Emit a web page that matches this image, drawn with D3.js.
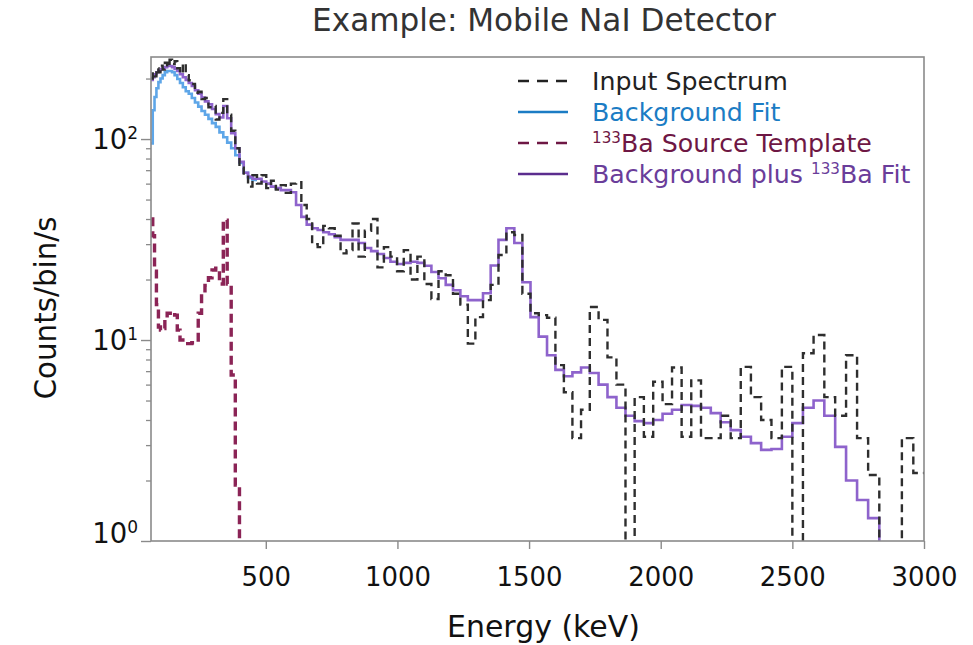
<!DOCTYPE html>
<html><head><meta charset="utf-8">
<script src="https://cdn.jsdelivr.net/npm/d3@7"></script>
<style>body{margin:0;background:#fff;} svg{display:block;font-family:"DejaVu Sans",sans-serif;}</style>
</head><body><svg id="c" width="973" height="645"></svg>
<script>
// Histogram bin edges (keV)
const binEdges = [64,70.6,77.4,84.6,92.2,100,108.2,116.6,125.4,134.6,144,153.8,163.8,174.2,185,196,207.4,219,231,243.4,
256,269,282.2,295.8,309.8,324,338.6,353.4,368.6,384.2,400,416.2,432.6,449.4,466.6,484,501.8,519.8,538.2,557,
576,595.4,615,635,655.4,676,697,718.2,739.8,761.8,784,806.6,829.4,852.6,876.2,900,924.2,948.6,973.4,998.6,
1024,1049.8,1075.8,1102.2,1129,1156,1183.4,1211,1239,1267.4,1296,1325,1354.2,1383.8,1413.8,1444,1474.6,1505.4,1536.6,1568.2,
1600,1632.2,1664.6,1697.4,1730.6,1764,1797.8,1831.8,1866.2,1901,1936,1971.4,2007,2043,2079.4,2116,2153,2190.2,2227.8,2265.8,
2304,2342.6,2381.4,2420.6,2460.2,2500,2540.2,2580.6,2621.4,2662.6,2704,2745.8,2787.8,2830.2,2873,2916,2959.4,3000];

// Input spectrum (counts/bin/s), one value per bin
const inputSpectrum = [200,215,205,225,215,232,222,240,228,248,
236,244,225,212,238,208,196,188,170,172,
158,160,144,146,125,135,158,132,110,90,
72,66,58,66,60,66,57,62,56,59,
54,60,61,47,40,30,29,37,36,33,
27,28,38,26,35,40,23,29,26,22,
28,20,26,19,16,22,21,17,15,9.6,
13,15.8,18.8,26.5,34.4,33.3,17,13.6,13.3,12.9,
7.5,5.5,3.25,4.5,14.6,12.6,8.2,6.0,0.3,5.2,
3.3,6.2,4.8,7.3,3.3,6.3,3.25,3.25,4.2,3.25,
7.35,5.2,4.0,3.25,7.35,0.3,8.6,10.6,5.2,4.2,
8.4,3.25,2.13,0.3,0.3,3.25,2.18];

// Background fit (visible at low energy)
const backgroundFit = [95,139,162,179,192,200,208,215,218,218,
215,208,199,190,181,173,168,160,152,145,
138,132,126,120,115,108,102,96,90,83,
76,68,64,62.5];

// 133Ba source template
const baTemplate = [40,33,22,15,11.6,11.2,11.4,12.8,13.6,13.6,
13.8,13.3,11.2,10,9.7,9.6,9.6,9.7,9.7,13.6,
17,18.7,20.4,22.3,22.8,19,39.5,19,6.7,1.9,0.5];

// Background plus 133Ba fit
const bgPlusBaFit = [197,203,210,215,220,223,226,228,231,231,
228,223,218,210,203,197,190,184,175,168,
161,154,149,141,133,128,146,127,107,90,
77,68,65,63.5,63.5,61.5,60,58,57,55.7,
55.7,54.4,47,41,37.5,36,35.3,34.4,33.6,32.5,
31.5,31.5,31.5,30.4,28.7,27.7,26.8,25.6,24.5,23.9,
24.2,24.5,24.2,23.4,21.8,20.3,18.8,17.7,16.5,15.8,
15.8,17.1,23.5,31.5,36,30.4,19.4,13.0,10.4,8.4,
7.1,6.6,6.9,7.3,6.85,6.0,5.2,4.6,4.2,3.95,
3.86,4.0,4.3,4.5,4.75,4.7,4.6,4.33,3.9,3.56,
3.3,3.07,2.84,2.87,3.3,3.86,4.6,5.0,4.2,2.94,
2.0,1.6,1.3,0.5,0.5,0.5,0.5];

const xTicks = [500,1000,1500,2000,2500,3000];
const yTicks = [1,10,100];
const yTickExponents = ["0","1","2"];
const legendLabels = ["Input Spectrum","Background Fit","^133Ba Source Template","Background plus ^133Ba Fit"];
const titleText = "Example: Mobile NaI Detector";
const xLabel = "Energy (keV)";
const yLabel = "Counts/bin/s";

const svg = d3.select("#c");
const M = {left:151, right:924, top:57, bottom:541};
const x = d3.scaleLinear().domain([64,3000]).range([M.left,M.right]);
const y = d3.scaleLog().domain([1,256]).range([M.bottom,M.top]);
const frameColor = "#8a8a8a";

function fit(sel, target){
  const w = sel.node().getComputedTextLength();
  const fs = parseFloat(sel.attr("font-size"));
  const nf = fs*target/w;
  sel.attr("font-size", nf);
  return nf;
}
function measure(str, fs){
  const p = svg.append("text").attr("font-size",fs).text(str);
  const w = p.node().getComputedTextLength();
  p.remove();
  return w;
}

// clip
svg.append("defs").append("clipPath").attr("id","clip")
  .append("rect").attr("x",M.left).attr("y",M.top).attr("width",M.right-M.left).attr("height",M.bottom-M.top);

// Step paths
function stepPoints(vals){
  const n = Math.min(vals.length, binEdges.length-1);
  const pts = [];
  for(let i=0;i<n;i++) pts.push([binEdges[i], vals[i]]);
  pts.push([binEdges[n], vals[n-1]]);
  return pts;
}
const line = d3.line().x(d=>x(d[0])).y(d=>y(Math.max(d[1],0.2))).curve(d3.curveStepAfter);

const plot = svg.append("g").attr("clip-path","url(#clip)");
plot.append("path").attr("d", line(stepPoints(backgroundFit)))
  .attr("fill","none").attr("stroke","#5ea6e8").attr("stroke-width",2.6);
plot.append("path").attr("d", line(stepPoints(bgPlusBaFit)))
  .attr("fill","none").attr("stroke","#8e63cc").attr("stroke-width",2.6);
plot.append("path").attr("d", line(stepPoints(baTemplate)))
  .attr("fill","none").attr("stroke","#8b2456").attr("stroke-width",3.4).attr("stroke-dasharray","9,5");
plot.append("path").attr("d", line(stepPoints(inputSpectrum)))
  .attr("fill","none").attr("stroke","#2e2e2e").attr("stroke-width",2.4).attr("stroke-dasharray","8,5");

// Frame
svg.append("rect").attr("x",M.left).attr("y",M.top).attr("width",M.right-M.left).attr("height",M.bottom-M.top)
  .attr("fill","none").attr("stroke",frameColor).attr("stroke-width",1.6);

// X axis
const xg = svg.append("g").attr("transform",`translate(0,${M.bottom})`)
  .call(d3.axisBottom(x).tickValues(xTicks).tickSize(8).tickFormat(d3.format("d")));
xg.select(".domain").remove();
xg.selectAll("line").attr("stroke",frameColor).attr("stroke-width",1.4);
const fsx = 26*66/measure("1000",26);
xg.selectAll("text").attr("fill","#111").attr("font-family","DejaVu Sans").attr("font-size",fsx)
  .attr("dy",null).attr("y",37).attr("dominant-baseline","middle");

// Y axis ticks
const minor = [];
yTicks.forEach(d=>{ for(let k=2;k<10;k++){ if(d*k<=y.domain()[1]) minor.push(d*k); } });
const ymin = svg.append("g").attr("transform",`translate(${M.left},0)`)
  .call(d3.axisLeft(y).tickValues(minor).tickSize(5).tickFormat(""));
ymin.select(".domain").remove();
ymin.selectAll("line").attr("stroke",frameColor).attr("stroke-width",1.3);
const ymaj = svg.append("g").attr("transform",`translate(${M.left},0)`)
  .call(d3.axisLeft(y).tickValues(yTicks).tickSize(10).tickFormat(""));
ymaj.select(".domain").remove();
ymaj.selectAll("line").attr("stroke",frameColor).attr("stroke-width",1.4);

const yfs = 26*35/measure("10",26);
const ysup = yfs*0.62;
const ylab = svg.append("g");
yTicks.forEach((d,i)=>{
  const cy = Math.min(y(d),533);
  const t = ylab.append("text").attr("x",138).attr("y",cy + yfs*0.36)
    .attr("text-anchor","end").attr("fill","#111").attr("font-size",yfs);
  t.append("tspan").text("10");
  t.append("tspan").text(yTickExponents[i]).attr("font-size",ysup).attr("dy",-yfs*0.36);
});

// Title
const title = svg.append("text").attr("x",544).attr("y",20).attr("dy","0.36em").attr("text-anchor","middle")
  .attr("fill","#333").attr("font-size",26).text(titleText);
fit(title, 464);

// Axis labels
const xl = svg.append("text").attr("x",543.5).attr("y",626).attr("dy","0.36em").attr("text-anchor","middle")
  .attr("fill","#111").attr("font-size",26).text(xLabel);
fit(xl, 193);
const yl = svg.append("text").attr("transform","translate(45,308) rotate(-90)").attr("dy","0.36em").attr("text-anchor","middle")
  .attr("fill","#111").attr("font-size",26).text(yLabel);
fit(yl, 183);

// Legend
const legTextColors = ["#222222","#1b7cc4","#6e1744","#6a3d9a"];
const legLineColors = ["#222222","#1b7cc4","#6e1744","#5b2d8e"];
const legDash = ["11,8",null,"11,8",null];
const legFs = 22*196/measure(legendLabels[0],22);
const supFs = legFs*0.6, supRise = legFs*0.36;
const leg = svg.append("g");
legendLabels.forEach((lab,i)=>{
  const cy = 81 + i*31;
  leg.append("line").attr("x1",518).attr("x2",568).attr("y1",cy).attr("y2",cy)
    .attr("stroke",legLineColors[i]).attr("stroke-width",2.4).attr("stroke-dasharray",legDash[i]);
  const t = leg.append("text").attr("x",592).attr("y",cy + legFs*0.36)
    .attr("fill",legTextColors[i]).attr("font-size",legFs);
  const parts = lab.split(/(\^\d+)/).filter(s=>s.length);
  let raised = false;
  parts.forEach(p=>{
    if(p[0]==="^"){
      t.append("tspan").text(p.slice(1)).attr("font-size",supFs).attr("dy",-supRise);
      raised = true;
    } else {
      const ts = t.append("tspan").text(p);
      if(raised){ ts.attr("dy",supRise); raised=false; }
    }
  });
});
</script></body></html>
